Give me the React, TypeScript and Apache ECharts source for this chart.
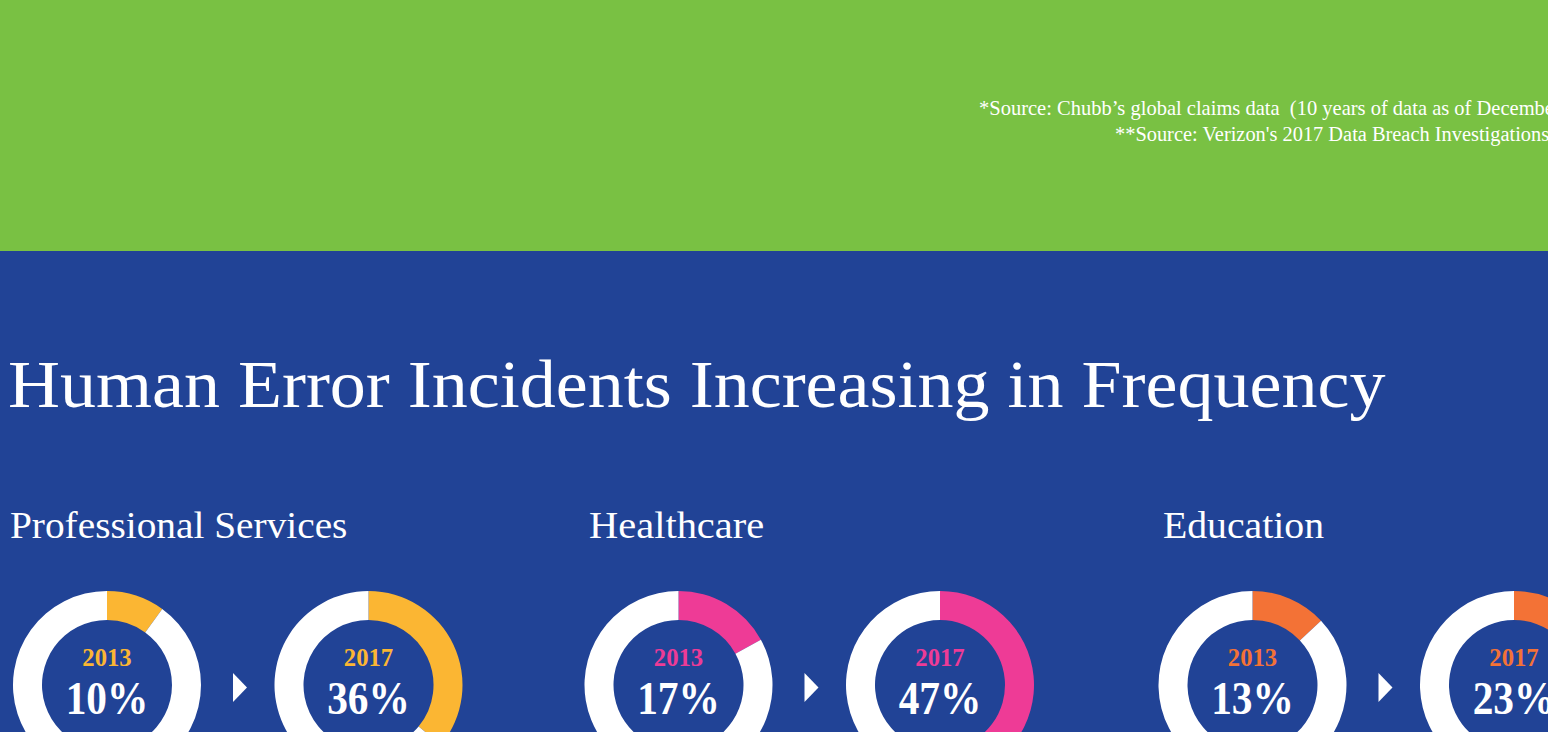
import React, { useEffect, useRef } from "react";
import * as echarts from "echarts";

const sectors = ["Professional Services", "Healthcare", "Education"];
const years = ["2013", "2017"];
const share2013 = [10, 17, 13];
const share2017 = [36, 47, 23];
const sourceLines = [
  "*Source: Chubb\u2019s global claims data  (10 years of data as of December 2017)",
  "**Source: Verizon's 2017 Data Breach Investigations Report",
];
const title = "Human Error Incidents Increasing in Frequency";

const sectorColors = ["#FBB633", "#EE3B96", "#F37236"];
const GREEN = "#79C143";
const BLUE = "#214396";
const FONT = "'Liberation Serif', 'Times New Roman', serif";

const sectorX = [0, 571.5, 1145.5];
const headX = [10, 589, 1163];
const headScale = [1.063, 1.094, 1.074];

export default function App() {
  const ref = useRef<HTMLDivElement>(null);
  useEffect(() => {
    if (!ref.current) return;
    const chart = echarts.init(ref.current, undefined, { renderer: "svg" });
    const series: any[] = [];
    const graphic: any[] = [
      { type: "rect", shape: { x: 0, y: 0, width: 1548, height: 251 }, style: { fill: GREEN }, z: -10 },
      { type: "rect", shape: { x: 0, y: 251, width: 1548, height: 481 }, style: { fill: BLUE }, z: -10 },
      {
        type: "text", x: 979, y: 108, scaleX: 1.025,
        style: { text: sourceLines[0], fill: "#fff", font: `20px ${FONT}`, verticalAlign: "middle", align: "left" },
      },
      {
        type: "text", x: 1115, y: 134.5, scaleX: 1.02,
        style: { text: sourceLines[1], fill: "#fff", font: `20px ${FONT}`, verticalAlign: "middle", align: "left" },
      },
      {
        type: "text", x: 8, y: 384, scaleX: 1.059,
        style: { text: title, fill: "#fff", font: `68px ${FONT}`, verticalAlign: "middle", align: "left" },
      },
    ];
    sectors.forEach((name, i) => {
      const ox = sectorX[i];
      graphic.push({
        type: "text", x: headX[i], y: 525, scaleX: headScale[i],
        style: { text: name, fill: "#fff", font: `37px ${FONT}`, verticalAlign: "middle", align: "left" },
      });
      graphic.push({
        type: "polygon",
        shape: { points: [[233 + ox, 673], [247 + ox, 687.5], [233 + ox, 702]] },
        style: { fill: "#fff" },
      });
      const vals = [share2013[i], share2017[i]];
      vals.forEach((v, j) => {
        const cx = 107 + ox + j * 261.5;
        series.push({
          type: "pie",
          center: [cx, 685],
          radius: [65, 94],
          startAngle: 90,
          clockwise: true,
          silent: true,
          label: { show: false },
          labelLine: { show: false },
          emphasis: { disabled: true },
          itemStyle: { borderWidth: 0 },
          data: [
            { value: v, name: `${name} ${years[j]}`, itemStyle: { color: sectorColors[i] } },
            { value: 100 - v, name: `${name} ${years[j]} rest`, itemStyle: { color: "#fff" } },
          ],
        });
        graphic.push({
          type: "text", x: cx, y: 657, scaleX: 0.95,
          style: { text: years[j], fill: sectorColors[i], font: `bold 26px ${FONT}`, verticalAlign: "middle", align: "center" },
          z: 10,
        });
        graphic.push({
          type: "text", x: cx, y: 698.5, scaleX: 0.88,
          style: { text: `${v}%`, fill: "#fff", font: `bold 47px ${FONT}`, verticalAlign: "middle", align: "center" },
          z: 10,
        });
      });
    });
    chart.setOption({
      animation: false,
      backgroundColor: BLUE,
      series,
      graphic: { elements: graphic },
    });
    return () => chart.dispose();
  }, []);
  return (
    <div
      ref={ref}
      style={{ position: "fixed", left: 0, top: 0, width: 1548, height: 732 }}
    />
  );
}
